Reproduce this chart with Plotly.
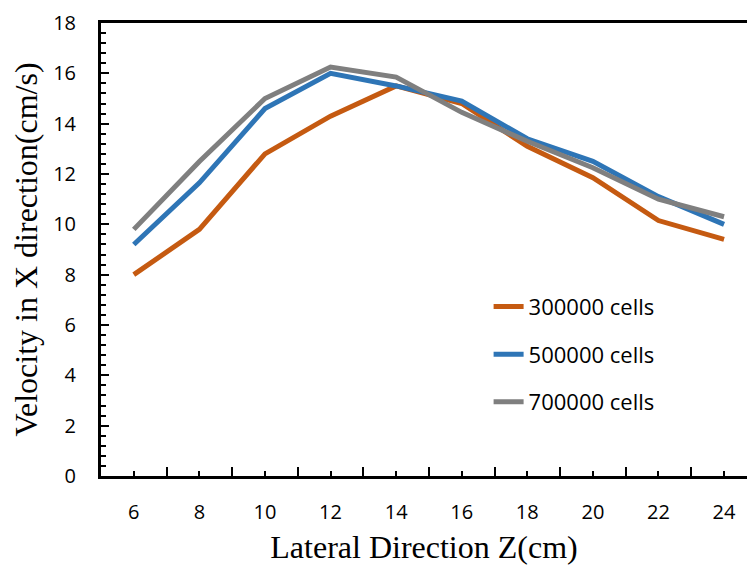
import plotly.graph_objects as go

# Data
z_labels = ["6", "8", "10", "12", "14", "16", "18", "20", "22", "24"]
cells_300k = [8.0, 9.8, 12.8, 14.3, 15.5, 14.8, 13.1, 11.85, 10.15, 9.4]
cells_500k = [9.2, 11.65, 14.6, 16.0, 15.5, 14.9, 13.4, 12.5, 11.1, 10.0]
cells_700k = [9.8, 12.5, 15.0, 16.25, 15.85, 14.45, 13.3, 12.25, 11.0, 10.3]
series_names = ["300000 cells", "500000 cells", "700000 cells"]
series_colors = ["#C55A11", "#2E75B6", "#7F7F7F"]

x_idx = list(range(len(z_labels)))

fig = go.Figure()
for name, vals, col in zip(series_names, [cells_300k, cells_500k, cells_700k], series_colors):
    fig.add_trace(go.Scatter(
        x=x_idx, y=vals, mode="lines", name=name,
        line=dict(color=col, width=5),
        legendgroup=name,
    ))

tick_font = dict(family="Open Sans", size=20, color="black")
title_font = dict(family="Liberation Serif", size=32, color="black")

fig.update_layout(
    width=747, height=570,
    margin=dict(l=101, r=0, t=23, b=94),
    paper_bgcolor="white", plot_bgcolor="white",
    showlegend=True,
    legend=dict(
        x=0.6, y=0.42, xanchor="left", yanchor="top",
        font=dict(family="Open Sans", size=22, color="black"),
        tracegroupgap=16, bgcolor="rgba(0,0,0,0)",
    ),
    xaxis=dict(
        range=[-0.5, 9.35],
        tickmode="array", tickvals=x_idx, ticktext=z_labels,
        ticks="inside", ticklen=5, tickwidth=2, tickcolor="black",
        minor=dict(tick0=-0.5, dtick=1, ticks="inside", ticklen=9, tickwidth=2, tickcolor="black"),
        showline=True, linecolor="black", linewidth=3, mirror=True,
        showgrid=False, zeroline=False,
        tickfont=tick_font, ticklabelstandoff=16,
        title=dict(text="Lateral Direction Z(cm)", font=title_font, standoff=12),
    ),
    yaxis=dict(
        range=[0, 18], dtick=2, tick0=0,
        ticks="inside", ticklen=8, tickwidth=2, tickcolor="black",
        minor=dict(dtick=0.4, tick0=0, ticks="inside", ticklen=5, tickwidth=2, tickcolor="black"),
        showline=True, linecolor="black", linewidth=3,
        showgrid=False, zeroline=False,
        tickfont=tick_font, ticklabelstandoff=18,
        title=dict(text="Velocity in X direction(cm/s)", font=title_font, standoff=6),
    ),
)

fig.write_html("out.html")
